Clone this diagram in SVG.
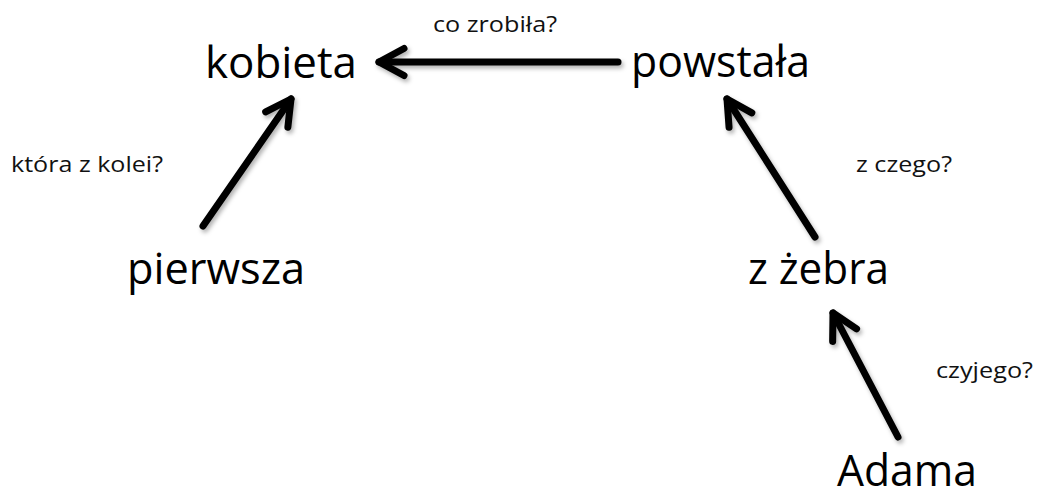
<svg xmlns="http://www.w3.org/2000/svg" width="1040" height="497" viewBox="0 0 1040 497">
<style>
.big{font-family:"Open Sans","Liberation Sans",sans-serif;font-size:44px;fill:#000}
.small{font-family:"Open Sans","Liberation Sans",sans-serif;font-size:21px;fill:#111}
.arr{fill:none;stroke:#000;stroke-width:7;stroke-linecap:round;stroke-linejoin:round}
</style>
<defs>
<filter id="sh" x="-20%" y="-20%" width="140%" height="140%">
<feDropShadow dx="2" dy="3" stdDeviation="2" flood-color="#000" flood-opacity="0.3"/>
</filter>
<marker id="head" markerUnits="userSpaceOnUse" markerWidth="40" markerHeight="40" viewBox="-32 -20 40 40" refX="0" refY="0" orient="auto">
<path d="M-25,-13.5 L0,0 L-25,13.5" fill="none" stroke="#000" stroke-width="7" stroke-linecap="round" stroke-linejoin="round"/>
</marker>
</defs>
<rect width="1040" height="497" fill="#fff"/>
<g id="connectors" filter="url(#sh)">
<path class="arr" d="M618,62 L379,62" marker-end="url(#head)"/>
<path class="arr" d="M203,226 L291,99" marker-end="url(#head)"/>
<path class="arr" d="M815,237 L727,99" marker-end="url(#head)"/>
<path class="arr" d="M898,437 L833,313" marker-end="url(#head)"/>
</g>
<g id="node-kobieta"><text class="big" x="205" y="78" textLength="152" lengthAdjust="spacingAndGlyphs">kobieta</text></g>
<g id="node-powstala"><text class="big" x="631" y="77" textLength="179" lengthAdjust="spacingAndGlyphs">powstała</text></g>
<g id="node-pierwsza"><text class="big" x="127" y="284" textLength="178" lengthAdjust="spacingAndGlyphs">pierwsza</text></g>
<g id="node-zzebra"><text class="big" x="748" y="284" textLength="141" lengthAdjust="spacingAndGlyphs">z żebra</text></g>
<g id="node-adama"><text class="big" x="837" y="486" textLength="140" lengthAdjust="spacingAndGlyphs">Adama</text></g>
<g id="labels">
<text class="small" x="433" y="32" textLength="124" lengthAdjust="spacingAndGlyphs">co zrobiła?</text>
<text class="small" x="11" y="172" textLength="152" lengthAdjust="spacingAndGlyphs">która z kolei?</text>
<text class="small" x="856" y="172" textLength="96" lengthAdjust="spacingAndGlyphs">z czego?</text>
<text class="small" x="936" y="378" textLength="97" lengthAdjust="spacingAndGlyphs">czyjego?</text>
</g>
</svg>
